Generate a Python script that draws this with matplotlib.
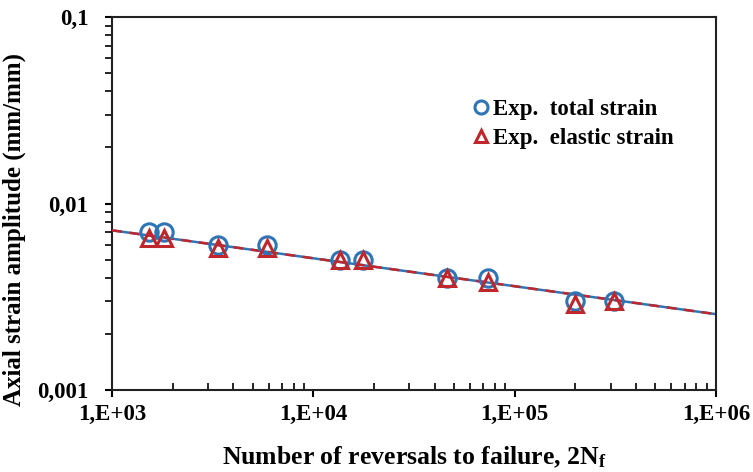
import matplotlib
matplotlib.use("Agg")
import matplotlib.pyplot as plt
from matplotlib.ticker import FixedLocator, LogLocator, NullFormatter

plt.rcParams['font.family'] = ['Liberation Serif', 'DejaVu Serif']
plt.rcParams['font.weight'] = 'bold'
plt.rcParams['mathtext.fontset'] = 'custom'
plt.rcParams['mathtext.rm'] = 'Liberation Serif:bold'
plt.rcParams['mathtext.it'] = 'Liberation Serif:bold'

# reversals to failure (2Nf)
reversals = [1530, 1820, 3370, 5900, 13600, 17700, 45900, 73500, 199000, 311000]
total_strain = [0.0070, 0.0070, 0.0060, 0.0060, 0.0050, 0.0050, 0.0040, 0.0040, 0.0030, 0.0030]
elastic_strain = [0.0065, 0.0065, 0.0058, 0.0058, 0.0050, 0.0050, 0.0040, 0.0038, 0.0029, 0.0030]

# fitted line (endpoints)
fit_x = [1e3, 1e6]
fit_y = [0.00718, 0.00255]

x_ticks = [1e3, 1e4, 1e5, 1e6]
x_labels = ['1,E+03', '1,E+04', '1,E+05', '1,E+06']
y_ticks = [0.001, 0.01, 0.1]
y_labels = ['0,001', '0,01', '0,1']

blue = '#2e75b6'
red = '#c0272d'

fig = plt.figure(figsize=(7.53, 4.72), dpi=100)
ax = fig.add_axes([112/753, 1 - 390/472, (716-112)/753, (390-17)/472])

ax.plot(fit_x, fit_y, color=blue, lw=1.8, zorder=2)
ax.plot(fit_x, fit_y, color=red, lw=1.8, ls=(0, (4, 3)), zorder=3)

ax.plot(reversals, total_strain, 'o', ms=12.5, mfc='none', mec=blue, mew=2.2,
        label='Exp.  total strain', zorder=4)
ax.plot(reversals, elastic_strain, '^', ms=12, mfc='none', mec=red, mew=2.2,
        label='Exp.  elastic strain', zorder=5)

ax.set_xscale('log')
ax.set_yscale('log')
ax.set_xlim(1e3, 1e6)
ax.set_ylim(0.001, 0.1)

ax.xaxis.set_major_locator(FixedLocator(x_ticks))
ax.set_xticklabels(x_labels)
ax.yaxis.set_major_locator(FixedLocator(y_ticks))
ax.set_yticklabels(y_labels)
ax.xaxis.set_minor_locator(LogLocator(base=10, subs=range(2, 10)))
ax.yaxis.set_minor_locator(LogLocator(base=10, subs=range(2, 10)))
ax.xaxis.set_minor_formatter(NullFormatter())
ax.yaxis.set_minor_formatter(NullFormatter())

ax.tick_params(axis='x', which='major', direction='out', length=5, width=1.5, labelsize=16.5, pad=5)
ax.tick_params(axis='x', which='minor', direction='in', length=5, width=1.2)
ax.tick_params(axis='y', which='major', direction='out', length=5, width=1.5, labelsize=16.5, pad=12)
ax.tick_params(axis='y', which='minor', direction='out', length=5, width=1.2)

for s in ax.spines.values():
    s.set_linewidth(1.5)
    s.set_color('#222222')

ax.set_xlabel('Number of reversals to failure, 2N$_\\mathrm{f}$', fontsize=18.5, fontweight='bold', labelpad=14)
ax.set_ylabel('Axial strain amplitude (mm/mm)', fontsize=18, fontweight='bold')
ax.yaxis.set_label_coords(-0.142, 0.43)

leg = ax.legend(loc='upper left', bbox_to_anchor=(0.557, 0.835), frameon=False,
                handletextpad=0.05, handlelength=1.0, markerscale=0.75,
                labelspacing=0.35, prop={'weight': 'bold', 'size': 16.5})

fig.savefig('out.png', dpi=100)
